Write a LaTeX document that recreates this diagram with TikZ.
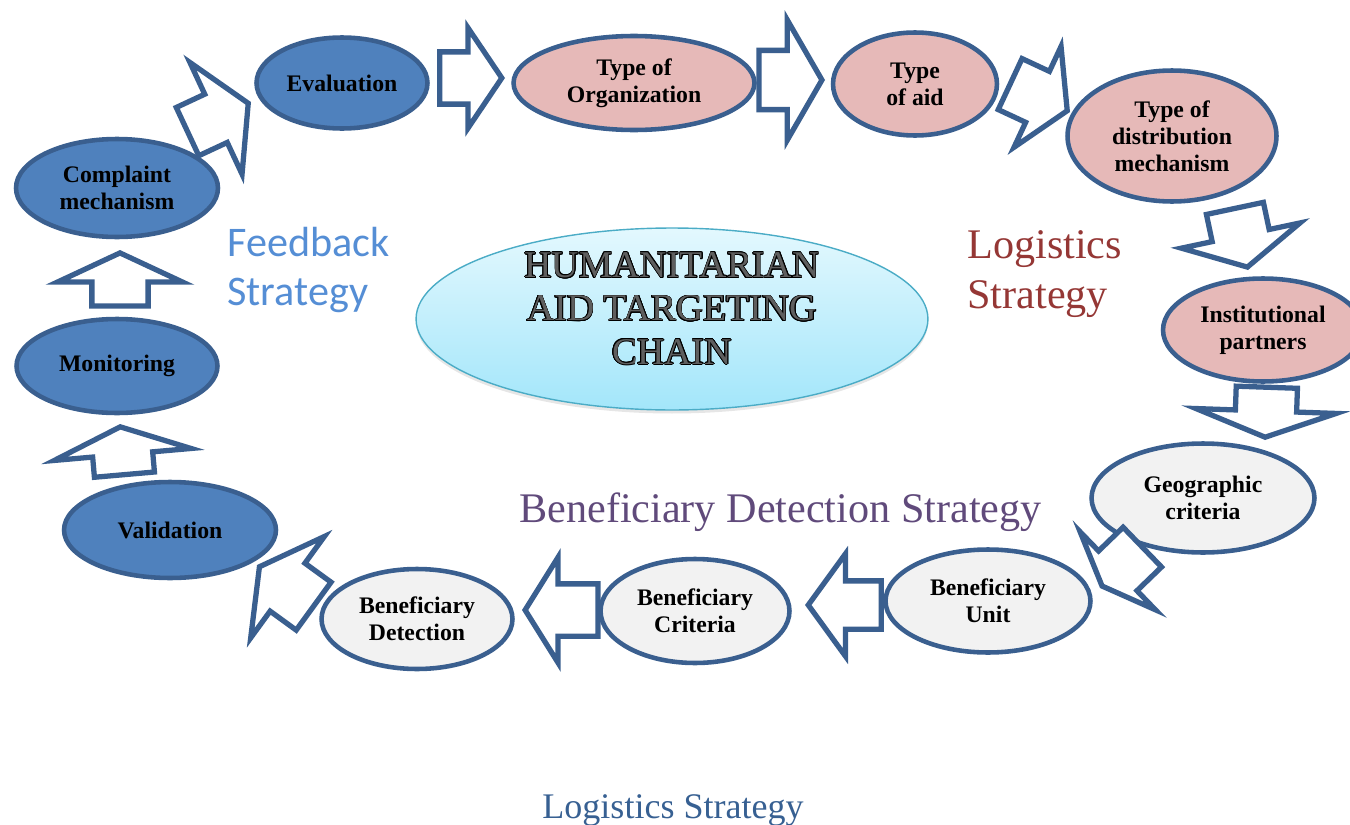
\documentclass[tikz,border=0pt]{standalone}
\usepackage{fontspec}
\usepackage[copies]{contour}
\setmainfont{Liberation Serif}
\newfontfamily\calfont{Carlito}
\usetikzlibrary{shapes.geometric,shapes.arrows,shadows}

\definecolor{edgeblue}{HTML}{3A5F8F}
\definecolor{fbblue}{HTML}{4F81BD}
\definecolor{lgpink}{HTML}{E6B9B8}
\definecolor{bdgray}{HTML}{F2F2F2}
\definecolor{hubedge}{HTML}{4BACC6}
\definecolor{hubtop}{HTML}{E3F8FE}
\definecolor{hubbot}{HTML}{A3E6FA}
\definecolor{hubtext}{HTML}{5E5E5E}
\definecolor{fbtext}{HTML}{558ED5}
\definecolor{lgtext}{HTML}{953735}
\definecolor{bdtext}{HTML}{604A7B}
\definecolor{foottext}{HTML}{376092}

\contourlength{0.38pt}
\contournumber{16}

\tikzset{
  stage/.style={ellipse, draw=edgeblue, line width=2.6pt, inner sep=0pt, align=center,
    font=\bfseries\fontsize{13.5}{15.5}\selectfont},
  feedback/.style={stage, fill=fbblue},
  logistic/.style={stage, fill=lgpink},
  detect/.style={stage, fill=bdgray},
  % length, head width, shaft width, tip angle, direction
  flow/.style n args={5}{single arrow, draw=edgeblue, line width=3pt, fill=white,
    inner xsep=0pt, minimum height=#1, minimum width=#2, inner ysep={(#3)/2},
    single arrow head extend={(#2-#3)/2}, single arrow tip angle=#4, rotate=#5, anchor=tip},
  strategy/.style={inner sep=0pt, align=left}
}

\begin{document}
\begin{tikzpicture}[x=0.02cm,y=-0.02cm]
\useasboundingbox (0,0) rectangle (1350,825);

% centre
\node[ellipse, draw=hubedge, line width=0.8pt, top color=hubtop, bottom color=hubbot,
  drop shadow={opacity=0.2, shadow xshift=0pt, shadow yshift=-2pt},
  minimum width=10.24cm, minimum height=3.64cm] (hub) at (672,319) {};
\node[align=center, inner sep=0pt, text=hubtext, font=\fontsize{21.5}{24.7}\selectfont]
  (title) at (672,309)
  {\contour{black}{HUMANITARIAN}\\\contour{black}{AID TARGETING}\\\contour{black}{CHAIN}};

% feedback
\node[feedback, minimum width=4.24cm, minimum height=1.92cm] (valid) at (170,530) {Validation};
\node[feedback, minimum width=4.02cm, minimum height=1.88cm] (monit) at (117,366) {Monitoring};
\node[feedback, minimum width=4.04cm, minimum height=1.96cm] (compl) at (117,188) {Complaint\\mechanism};
\node[feedback, minimum width=3.42cm, minimum height=1.82cm] (eval) at (342,83) {Evaluation};

% logistics
\node[logistic, minimum width=4.82cm, minimum height=1.88cm] (org) at (634,83) {Type of\\Organization};
\node[logistic, minimum width=3.28cm, minimum height=2.06cm] (aid) at (915,84) {Type\\of aid};
\node[logistic, minimum width=4.18cm, minimum height=2.62cm] (dist) at (1172,136) {Type of\\distribution\\mechanism};
\node[logistic, minimum width=4.00cm, minimum height=2.06cm] (inst) at (1263,330) {Institutional\\partners};

% beneficiary detection
\node[detect, minimum width=4.46cm, minimum height=2.18cm] (geo) at (1203,498) {Geographic\\criteria};
\node[detect, minimum width=4.10cm, minimum height=2.06cm] (unit) at (988,601) {Beneficiary\\Unit};
\node[detect, minimum width=3.78cm, minimum height=2.08cm] (crit) at (695,611) {Beneficiary\\Criteria};
\node[detect, minimum width=3.82cm, minimum height=2.00cm] (det) at (417,619) {Beneficiary\\Detection};

% block arrows
\node[flow={0.96cm}{2.64cm}{1.10cm}{136}{95}] (v2m) at (120,424) {};
\node[flow={1.06cm}{2.40cm}{1.02cm}{130}{90}] (m2c) at (120,250) {};
\node[flow={1.34cm}{2.36cm}{0.96cm}{120}{25}] (c2e) at (251,102) {};
\node[flow={1.24cm}{1.90cm}{0.94cm}{112}{0}] (e2o) at (505,78) {};
\node[flow={1.26cm}{2.30cm}{1.08cm}{120}{0}] (o2a) at (825,80) {};
\node[flow={1.26cm}{2.12cm}{1.02cm}{119}{-25}] (a2d) at (1070,112) {};
\node[flow={1.20cm}{2.32cm}{1.06cm}{124}{-78}] (d2i) at (1248,270) {};
\node[flow={1.00cm}{2.70cm}{1.12cm}{139}{-92}] (i2g) at (1265,440) {};
\node[flow={1.12cm}{2.06cm}{1.00cm}{136}{-136}] (g2u) at (1100,588) {};
\node[flow={1.46cm}{1.94cm}{0.86cm}{108}{180}] (u2c) at (805,605) {};
\node[flow={1.46cm}{2.00cm}{0.94cm}{116}{180}] (c2d) at (522,610) {};
\node[flow={1.34cm}{2.40cm}{1.08cm}{122}{144}] (d2v) at (257,565) {};

% strategy labels
\node[strategy, anchor=north west, text=fbtext, font=\calfont\fontsize{24}{28}\selectfont]
  (fblabel) at (227,227) {Feedback\\Strategy};
\node[strategy, anchor=north west, text=lgtext, font=\fontsize{24}{28.4}\selectfont]
  (lglabel) at (967,230) {Logistics\\Strategy};
\node[strategy, anchor=base west, text=bdtext, font=\fontsize{24}{28}\selectfont]
  (bdlabel) at (519,522) {Beneficiary Detection Strategy};
\node[strategy, anchor=base, text=foottext, font=\fontsize{20.5}{24}\selectfont]
  (foot) at (673,818) {Logistics Strategy};
\end{tikzpicture}
\end{document}
